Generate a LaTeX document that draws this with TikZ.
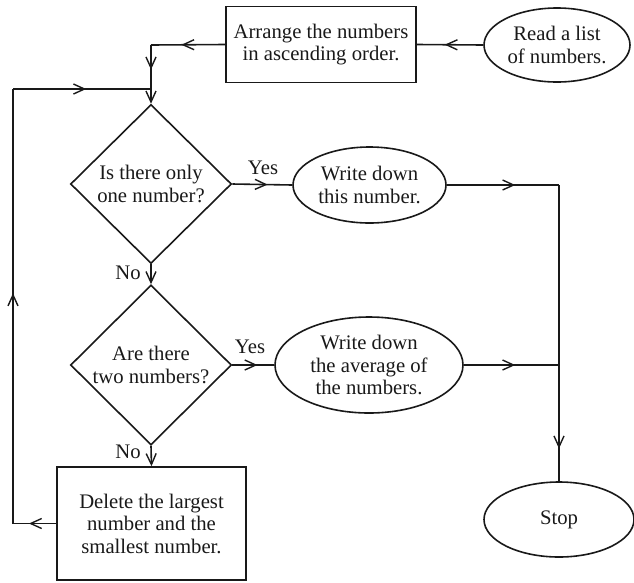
\documentclass[tikz,border=0pt]{standalone}
\usepackage{fontspec}
\setmainfont{Liberation Serif}
\usetikzlibrary{shapes.geometric,arrows.meta,decorations.markings}
\tikzset{
  myv/.tip={Straight Barb[length=11pt,width=10pt,line width=1.4pt]},
  base/.style={line width=1.6pt, draw=black!90, text=black!90,
    font=\fontsize{20.7}{22.5}\selectfont, align=center, inner sep=0pt},
  procbox/.style={base, rectangle},
  oval/.style={base, ellipse},
  decide/.style={base, diamond},
  lbl/.style={font=\fontsize{20.7}{22.5}\selectfont, text=black!90, inner sep=0pt},
  conn/.style={line width=1.6pt, draw=black!90},
  midtip/.style={postaction={decorate},
    decoration={markings, mark=at position #1 with {\arrow{myv}}}},
}
\begin{document}
\begin{tikzpicture}[x=1pt,y=-1pt]
\useasboundingbox (0,0) rectangle (634,582);

\node[oval, minimum width=146pt, minimum height=74pt] (read) at (557,45) {Read a list\\of numbers.};
\node[procbox, minimum width=190pt, minimum height=76pt] (arrange) at (321,44.5) {Arrange the numbers\\in ascending order.};
\node[decide, minimum width=161pt, minimum height=159pt] (d1) at (151,184) {Is there only\\one number?};
\node[decide, minimum width=161pt, minimum height=160pt] (d2) at (151,365) {Are there\\two numbers?};
\node[procbox, minimum width=189pt, minimum height=113pt] (del) at (151.5,523.5) {Delete the largest\\number and the\\smallest number.};
\node[oval, minimum width=153pt, minimum height=76pt] (e1) at (369.5,185) {Write down\\this number.};
\node[oval, minimum width=188pt, minimum height=96pt] (e2) at (369,365) {Write down\\the average of\\the numbers.};
\node[oval, minimum width=150pt, minimum height=75pt] (stop) at (559,519.5) {Stop};

\coordinate (c1) at (151,45);
\coordinate (c2) at (151,89);
\coordinate (l1) at (13,89);
\coordinate (l2) at (13,523.5);
\coordinate (j1) at (559,185);
\coordinate (j2) at (559,365);

\node[lbl] (yes1) at (263,168) {Yes};
\node[lbl] (no1) at (128,273) {No};
\node[lbl] (yes2) at (250,347) {Yes};
\node[lbl] (no2) at (128,452) {No};

\draw[conn, midtip=0.58] (read.west) -- (arrange.east);
\draw[conn, midtip=0.59] (arrange.west) -- (c1);
\draw[conn, midtip=0.42, -myv] (c1) -- (d1.north);
\draw[conn, midtip=0.63] (del.west) -- (l2);
\draw[conn, midtip=0.53] (l2) -- (l1);
\draw[conn, midtip=0.53] (l1) -- (c2);
\draw[conn, midtip=0.59] (d1.east) -- (e1.west);
\draw[conn, -myv] (d1.south) -- (d2.north);
\draw[conn, midtip=0.6] (d2.east) -- (e2.west);
\draw[conn, -myv] (d2.south) -- (del.north);
\draw[conn, midtip=0.61] (e1.east) -- (j1);
\draw[conn, midtip=0.89] (j1) -- (stop.north);
\draw[conn, midtip=0.54] (e2.east) -- (j2);
\end{tikzpicture}
\end{document}
